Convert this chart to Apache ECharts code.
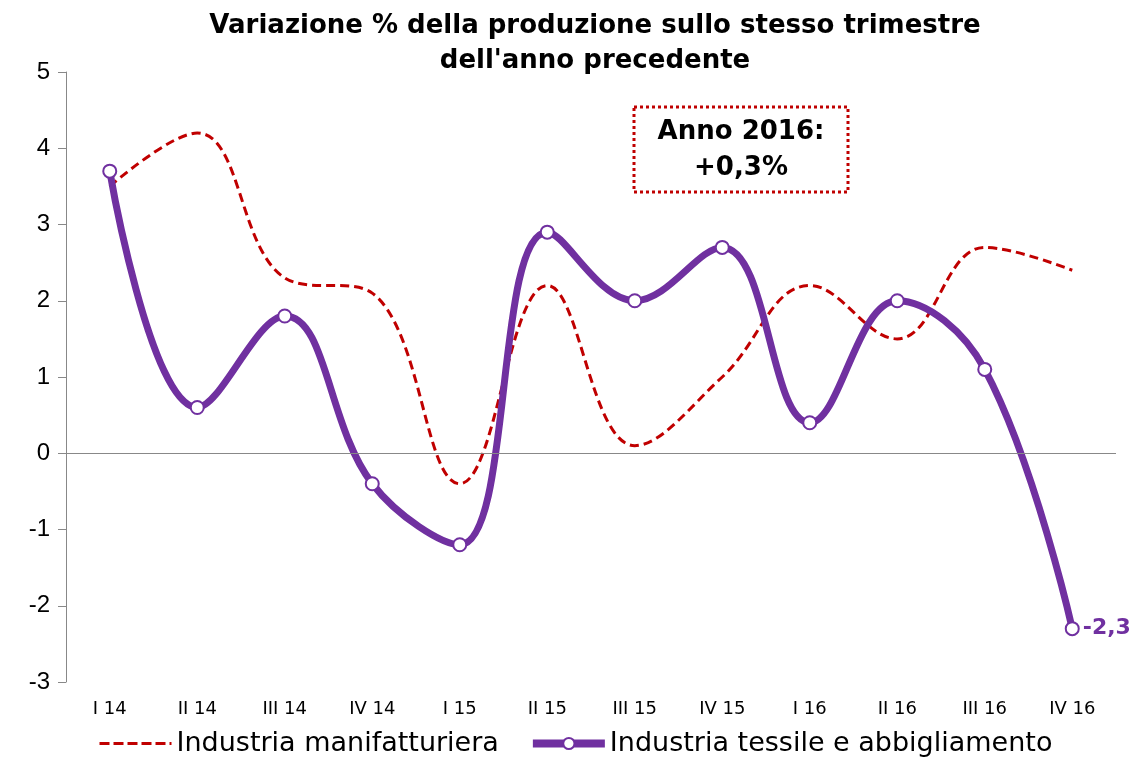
<!DOCTYPE html>
<html>
<head>
<meta charset="utf-8">
<script src="https://cdn.jsdelivr.net/npm/echarts@6/dist/echarts.min.js"></script>
<style>
  html, body { margin: 0; padding: 0; background: #fff; }
  #main { width: 1142px; height: 764px; }
</style>
</head>
<body>
<div id="main"></div>
<script type="text/javascript">
	// dati
	var trimestri = ['I 14', 'II 14', 'III 14', 'IV 14', 'I 15', 'II 15', 'III 15', 'IV 15', 'I 16', 'II 16', 'III 16', 'IV 16'];
	var manifatturiera = [3.5, 4.2, 2.3, 2.1, -0.4, 2.2, 0.1, 1.0, 2.2, 1.5, 2.7, 2.4];
	var tessile = [3.7, 0.6, 1.8, -0.4, -1.2, 2.9, 2.0, 2.7, 0.4, 2.0, 1.1, -2.3];
	var yTicks = [-3, -2, -1, 0, 1, 2, 3, 4, 5];

	var font = 'Verdana, "DejaVu Sans", sans-serif';
	var fontArial = 'Arial, "Liberation Sans", sans-serif';
	var myChart = echarts.init(document.getElementById('main'));

	var option = {
		backgroundColor: '#fff',
		animation: false,
		title: {
			text: 'Variazione % della produzione sullo stesso trimestre\ndell\'anno precedente',
			left: 590,
			textAlign: 'center',
			top: 4,
			textStyle: { fontFamily: font, fontWeight: 'bold', fontSize: 26, lineHeight: 35, color: '#000' }
		},
		grid: { left: 66, right: 26, top: 72, bottom: 82 },
		legend: {
			bottom: 2,
			left: 93,
			itemGap: 30,
			itemWidth: 72,
			itemHeight: 14,
			textStyle: { fontFamily: font, fontSize: 27, color: '#000' },
			data: [
				{ name: 'Industria manifatturiera', itemStyle: { opacity: 0 }, lineStyle: { width: 3, type: [10, 4] } },
				{ name: 'Industria tessile e abbigliamento', lineStyle: { width: 8 } }
			]
		},
		xAxis: {
			type: 'category',
			data: trimestri,
			boundaryGap: true,
			axisLine: { show: false, onZero: false },
			axisTick: { show: false },
			axisLabel: { fontFamily: font, fontSize: 18, color: '#000', margin: 18 }
		},
		yAxis: {
			type: 'value',
			min: yTicks[0],
			max: yTicks[yTicks.length - 1],
			interval: 1,
			splitLine: { show: false },
			axisLine: { show: true, lineStyle: { color: '#888', width: 1 } },
			axisTick: { show: true, length: 8, lineStyle: { color: '#888' } },
			axisLabel: { fontFamily: fontArial, fontSize: 24, color: '#000', margin: 16 }
		},
		series: [
			{
				name: 'Industria manifatturiera',
				type: 'line',
				data: manifatturiera,
				smooth: 0.4,
				showSymbol: false,
				symbol: 'none',
				lineStyle: { color: '#C00000', width: 3, type: [9, 5] },
				itemStyle: { color: '#C00000' },
				z: 2,
				markLine: {
					silent: true,
					symbol: 'none',
					label: { show: false },
					lineStyle: { color: '#888', width: 1.2, type: 'solid' },
					data: [{ yAxis: 0 }]
				}
			},
			{
				name: 'Industria tessile e abbigliamento',
				type: 'line',
				data: tessile,
				smooth: 0.4,
				symbol: 'circle',
				symbolSize: 13,
				lineStyle: { color: '#7030A0', width: 7 },
				itemStyle: { color: '#fff', borderColor: '#7030A0', borderWidth: 2 },
				z: 3,
				label: {
					show: true,
					position: 'right',
					distance: 3,
					fontFamily: font,
					fontWeight: 'bold',
					fontSize: 22,
					color: '#7030A0',
					formatter: function (p) {
						return p.dataIndex === tessile.length - 1 ? String(p.value).replace('.', ',') : '';
					}
				}
			}
		],
		graphic: [
			{
				type: 'rect',
				shape: { x: 634, y: 107, width: 214, height: 85 },
				style: { fill: '#fff', stroke: '#C00000', lineWidth: 3, lineDash: [3, 3] },
				z: 10
			},
			{
				type: 'text',
				x: 741,
				y: 150,
				style: {
					text: 'Anno 2016:\n+0,3%',
					fill: '#000',
					font: 'bold 26px ' + font,
					lineHeight: 36,
					align: 'center',
					verticalAlign: 'middle'
				},
				z: 11
			}
		]
	};

	myChart.setOption(option);
</script>
</body>
</html>
